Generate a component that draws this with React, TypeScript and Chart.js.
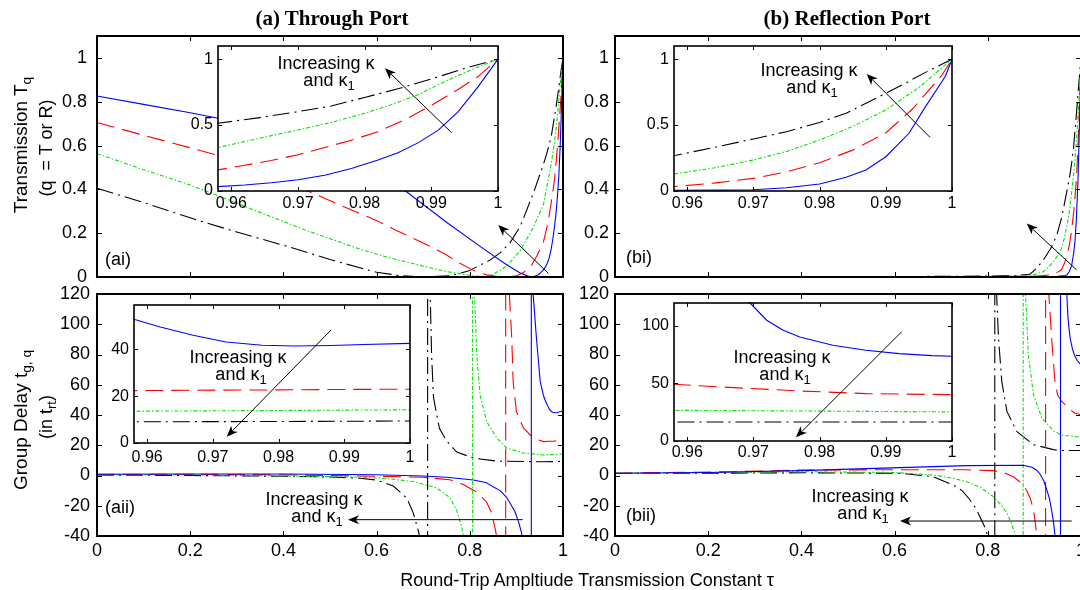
import React, { useEffect, useRef } from "react";
import { Chart, registerables } from "chart.js";

Chart.register(...registerables);

type P = [number, number];

// ---------- tick values ----------
const tauTicksMain = [0, 0.2, 0.4, 0.6, 0.8, 1];
const transTicks = [0, 0.2, 0.4, 0.6, 0.8, 1];
const delayTicks = [-40, -20, 0, 20, 40, 60, 80, 100, 120];
const tauTicksInset = [0.96, 0.97, 0.98, 0.99, 1];
const transTicksInset = [0, 0.5, 1];
const delayTicksInsetA = [0, 20, 40];
const delayTicksInsetB = [0, 50, 100];

// ---------- (a) Through port transmission ----------
const throughBlue: P[] = [[0,0.826],[0.1,0.788],[0.2,0.75],[0.26,0.725],[0.4,0.63],[0.55,0.5],[0.665,0.388],[0.75,0.25],[0.822,0.14],[0.879,0.056],[0.908,0.018],[0.925,0.004],[0.935,0],[0.947,0.01],[0.958,0.033],[0.962,0.045],[0.966,0.062],[0.97,0.085],[0.974,0.12],[0.978,0.17],[0.982,0.235],[0.985,0.29],[0.988,0.365],[0.991,0.46],[0.994,0.6],[0.997,0.79],[1,1]];
const throughRed: P[] = [[0,0.705],[0.1,0.647],[0.2,0.59],[0.26,0.555],[0.35,0.48],[0.457,0.388],[0.52,0.33],[0.564,0.29],[0.603,0.255],[0.64,0.215],[0.7,0.155],[0.747,0.105],[0.772,0.07],[0.81,0.028],[0.836,0.01],[0.86,0.002],[0.88,0],[0.9,0.005],[0.915,0.02],[0.933,0.055],[0.945,0.1],[0.958,0.16],[0.962,0.195],[0.966,0.232],[0.97,0.275],[0.974,0.33],[0.978,0.385],[0.982,0.45],[0.986,0.54],[0.99,0.65],[0.994,0.77],[0.997,0.868],[1,1]];
const throughGreen: P[] = [[0,0.563],[0.1,0.49],[0.2,0.42],[0.257,0.373],[0.35,0.295],[0.45,0.212],[0.564,0.127],[0.62,0.092],[0.693,0.053],[0.75,0.025],[0.8,0.008],[0.825,0.002],[0.845,0.008],[0.865,0.03],[0.879,0.05],[0.908,0.12],[0.936,0.225],[0.958,0.33],[0.962,0.375],[0.966,0.42],[0.97,0.463],[0.975,0.52],[0.98,0.59],[0.984,0.655],[0.988,0.73],[0.992,0.83],[0.996,0.92],[1,1]];
const throughBlack: P[] = [[0,0.405],[0.1,0.34],[0.2,0.27],[0.3,0.205],[0.4,0.145],[0.5,0.08],[0.564,0.042],[0.6,0.022],[0.65,0.006],[0.7,0],[0.76,0.006],[0.8,0.03],[0.843,0.077],[0.865,0.11],[0.886,0.155],[0.908,0.23],[0.936,0.38],[0.958,0.514],[0.964,0.555],[0.97,0.602],[0.975,0.645],[0.98,0.71],[0.985,0.775],[0.99,0.85],[0.995,0.93],[1,1]];

// ---------- (b) Reflection port transmission ----------
const reflBlue: P[] = [[0,0],[0.9,0],[0.95,0.003],[0.958,0.006],[0.965,0.007],[0.97,0.01],[0.975,0.025],[0.98,0.053],[0.984,0.105],[0.987,0.16],[0.99,0.26],[0.9935,0.438],[0.996,0.64],[0.999,0.87],[1,1]];
const reflRed: P[] = [[0,0],[0.5,0.001],[0.9,0.003],[0.935,0.01],[0.948,0.02],[0.958,0.033],[0.964,0.06],[0.97,0.096],[0.975,0.145],[0.98,0.215],[0.985,0.31],[0.99,0.44],[0.994,0.62],[0.9985,0.88],[1,1]];
const reflGreen: P[] = [[0,0],[0.5,0.001],[0.85,0.003],[0.9,0.01],[0.919,0.024],[0.935,0.055],[0.948,0.092],[0.958,0.129],[0.964,0.175],[0.97,0.235],[0.975,0.3],[0.98,0.387],[0.985,0.49],[0.99,0.615],[0.995,0.785],[1,1]];
const reflBlack: P[] = [[0,0],[0.3,0.001],[0.6,0.002],[0.8,0.004],[0.86,0.007],[0.89,0.012],[0.905,0.04],[0.919,0.077],[0.935,0.13],[0.948,0.19],[0.958,0.268],[0.964,0.33],[0.97,0.395],[0.975,0.45],[0.98,0.52],[0.984,0.59],[0.988,0.69],[0.992,0.792],[0.996,0.9],[1,1]];

// ---------- (a) Through port group delay ----------
const delayTBlue: P[] = [[0,0.8],[0.2,1],[0.4,1],[0.6,0.5],[0.7,-0.3],[0.75,-1.2],[0.808,-3],[0.836,-4.8],[0.85,-7.5],[0.865,-10],[0.879,-14.5],[0.886,-18],[0.897,-24],[0.905,-31],[0.911,-38],[0.918,-50],[0.925,-80],[0.932,-1000],[0.932,1000],[0.935,140],[0.936,119.6],[0.943,90.9],[0.951,62.3],[0.958,52.9],[0.962,49.6],[0.967,46.1],[0.972,43.2],[0.9775,41.8],[0.9825,41.5],[0.988,41.7],[0.993,42.1],[1,42.6]];
const delayTRed: P[] = [[0,0.8],[0.2,0.8],[0.4,0.5],[0.6,-0.5],[0.7,-1.2],[0.757,-2.8],[0.786,-6],[0.815,-11],[0.836,-17.5],[0.847,-25],[0.855,-36],[0.86,-45],[0.868,-70],[0.877,-1000],[0.877,1000],[0.884,130],[0.885,119.6],[0.89,90.9],[0.893,62.3],[0.9,42.4],[0.915,31.4],[0.936,24.8],[0.958,22.4],[0.97,22.6],[0.98,22.7],[0.99,22.9],[1,23]];
const delayTGreen: P[] = [[0,0.6],[0.2,0.5],[0.4,-0.3],[0.5,-0.8],[0.564,-1],[0.607,-1.7],[0.636,-2.5],[0.679,-4],[0.707,-6.3],[0.729,-8.3],[0.757,-14.5],[0.772,-23],[0.783,-34.7],[0.79,-45],[0.798,-70],[0.806,-1000],[0.806,1000],[0.809,140],[0.81,119.6],[0.815,79.9],[0.822,53.4],[0.836,35.8],[0.858,24.8],[0.879,18.2],[0.915,14.9],[0.958,13.6],[0.98,13.9],[1,14.2]];
const delayTBlack: P[] = [[0,0.3],[0.2,0],[0.4,-0.5],[0.5,-1],[0.564,-1.8],[0.6,-3],[0.636,-7],[0.665,-15],[0.679,-25],[0.69,-37],[0.695,-45],[0.702,-70],[0.7095,-1000],[0.7095,1000],[0.713,140],[0.715,119.6],[0.718,79.9],[0.722,52],[0.729,40],[0.735,31],[0.75,23],[0.772,15.5],[0.808,11.5],[0.858,9.5],[0.958,9.06],[0.98,9.2],[1,9.4]];

// ---------- (b) Reflection port group delay ----------
const delayRBlue: P[] = [[0,1.5],[0.2,2],[0.397,3.2],[0.612,5.2],[0.755,6.5],[0.876,6.8],[0.895,5.5],[0.905,3.5],[0.912,1],[0.92,-3.5],[0.926,-9],[0.932,-15],[0.937,-23],[0.941,-31],[0.944,-39],[0.948,-55],[0.952,-90],[0.956,-1000],[0.956,1000],[0.962,170],[0.966,138],[0.9695,120],[0.972,105],[0.9745,96.3],[0.977,90.4],[0.982,83.2],[0.987,78.9],[0.992,76],[0.997,74.2],[1,73.7]];
const delayRRed: P[] = [[0,1.5],[0.25,2.5],[0.4,3.6],[0.6,3.8],[0.75,3.8],[0.812,3.2],[0.835,1.8],[0.855,-0.8],[0.87,-4.5],[0.883,-9.6],[0.891,-15],[0.898,-22.8],[0.905,-38.2],[0.91,-52],[0.917,-90],[0.924,-1000],[0.924,1000],[0.928,150],[0.931,119.6],[0.937,90.9],[0.944,62.3],[0.95,53],[0.958,49.3],[0.967,46.4],[0.977,43.5],[0.987,41.2],[1,40.3]];
const delayRGreen: P[] = [[0,1.5],[0.2,2],[0.4,2.5],[0.6,2],[0.683,0.3],[0.72,-1.5],[0.755,-4.1],[0.785,-8],[0.812,-14],[0.83,-20],[0.841,-25],[0.85,-31],[0.858,-38.2],[0.864,-50],[0.87,-80],[0.876,-1000],[0.876,1000],[0.879,150],[0.881,119.6],[0.887,79.9],[0.898,53.4],[0.916,38],[0.941,29.5],[0.958,26.7],[0.98,26],[1,25.3]];
const delayRBlack: P[] = [[0,1.5],[0.2,1.5],[0.4,1.8],[0.612,1.5],[0.683,-0.8],[0.726,-6.3],[0.745,-10],[0.762,-16.2],[0.775,-22],[0.783,-27.2],[0.792,-33],[0.798,-38.2],[0.803,-50],[0.809,-80],[0.815,-1000],[0.815,1000],[0.817,150],[0.819,119.6],[0.823,90.9],[0.83,62.3],[0.841,42.4],[0.862,29.2],[0.898,20.4],[0.941,17.1],[0.958,16.5],[1,16.5]];

// ---------- styles ----------
const FONT = '"Liberation Sans", Arial, Helvetica, sans-serif';
const SERIF = '"Liberation Serif", "Times New Roman", serif';
const STY = {
  blue: { color: "#0000ff", dash: [] as number[] },
  red: { color: "#ff0000", dash: [18, 8] },
  green: { color: "#00e600", dash: [4, 2, 1.5, 2] },
  black: { color: "#000000", dash: [17, 5, 2, 5] },
};

type Arrow = { from: P; to: P };
type Spec = {
  L: number; T: number; W: number; H: number;
  padL: number; padT: number; padR: number; padB: number;
  x: P; y: P; xt: number[]; yt: number[];
  showX: boolean; xPad: number; yPad: number; xSize: number; ySize: number;
  fill?: string; tickLen: number; frameW: number;
  series: P[][]; arrows: Arrow[];
};

const mainBase = { padL: 70, padT: 32, padR: 22, padB: 38, tickLen: 5, frameW: 2, xSize: 18, ySize: 18 };
const insetBase = { padL: 45, padT: 30, padR: 22, padB: 32, tickLen: 4, frameW: 1.6, xSize: 16, ySize: 16, fill: "#ffffff" };

const SPECS: Spec[] = [
  { ...mainBase, L: 97, T: 36, W: 466, H: 241, x: [0, 1], y: [0, 1.1], xt: tauTicksMain, yt: transTicks, showX: false, xPad: 3, yPad: 10,
    series: [throughBlue, throughRed, throughGreen, throughBlack], arrows: [{ from: [0.9685, 0.017], to: [0.861, 0.237] }] },
  { ...mainBase, L: 615, T: 36, W: 466, H: 241, x: [0, 1], y: [0, 1.1], xt: tauTicksMain, yt: transTicks, showX: false, xPad: 3, yPad: 6,
    series: [reflBlue, reflRed, reflGreen, reflBlack], arrows: [{ from: [0.9908, 0.032], to: [0.8835, 0.244] }] },
  { ...mainBase, L: 97, T: 294, W: 466, H: 242, x: [0, 1], y: [-40, 120], xt: tauTicksMain, yt: delayTicks, showX: true, xPad: 4, yPad: 7,
    series: [delayTBlue, delayTRed, delayTGreen, delayTBlack], arrows: [{ from: [0.9135, -29.2], to: [0.5386, -29.2] }] },
  { ...mainBase, L: 615, T: 294, W: 466, H: 242, x: [0, 1], y: [-40, 120], xt: tauTicksMain, yt: delayTicks, showX: true, xPad: 4, yPad: 6,
    series: [delayRBlue, delayRRed, delayRGreen, delayRBlack], arrows: [{ from: [0.98, -30.1], to: [0.6116, -30.1] }] },
  { ...insetBase, L: 218, T: 46, W: 280, H: 145, x: [0.958, 1], y: [0, 1.1], xt: tauTicksInset, yt: transTicksInset, showX: true, xPad: 3, yPad: 5,
    series: [throughBlue, throughRed, throughGreen, throughBlack], arrows: [{ from: [0.99306, 0.442], to: [0.98305, 0.931] }] },
  { ...insetBase, L: 674, T: 46, W: 278, H: 145, x: [0.958, 1], y: [0, 1.1], xt: tauTicksInset, yt: transTicksInset, showX: true, xPad: 3, yPad: 5,
    series: [reflBlue, reflRed, reflGreen, reflBlack], arrows: [{ from: [0.99668, 0.407], to: [0.98711, 0.888] }] },
  { ...insetBase, L: 134, T: 305, W: 276, H: 138, x: [0.958, 1], y: [0, 59], xt: tauTicksInset, yt: delayTicksInsetA, showX: true, xPad: 5, yPad: 5,
    series: [delayTBlue, delayTRed, delayTGreen, delayTBlack], arrows: [{ from: [0.98798, 48.3], to: [0.97211, 2.7] }] },
  { ...insetBase, L: 674, T: 303, W: 278, H: 138, x: [0.958, 1], y: [0, 120], xt: tauTicksInset, yt: delayTicksInsetB, showX: true, xPad: 2, yPad: 5,
    series: [delayRBlue, delayRRed, delayRGreen, delayRBlack], arrows: [{ from: [0.9924, 95], to: [0.97643, 3.2] }] },
];

const framePlugin = {
  id: "frame",
  beforeDraw(chart: any, _a: any, opts: any) {
    if (!opts || !opts.fill) return;
    const { ctx, chartArea: a } = chart;
    ctx.save();
    ctx.fillStyle = opts.fill;
    ctx.fillRect(a.left, a.top, a.right - a.left, a.bottom - a.top);
    ctx.restore();
  },
  afterDatasetsDraw(chart: any, _a: any, opts: any) {
    const { ctx, chartArea: a, scales } = chart;
    const xs = scales.x, ys = scales.y;
    const len = opts.tickLen;
    ctx.save();
    ctx.strokeStyle = "#000";
    ctx.fillStyle = "#000";
    ctx.setLineDash([]);
    ctx.lineWidth = 1;
    ctx.beginPath();
    xs.ticks.forEach((t: any) => {
      const p = Math.round(xs.getPixelForValue(t.value)) + 0.5;
      ctx.moveTo(p, a.bottom); ctx.lineTo(p, a.bottom - len);
      ctx.moveTo(p, a.top); ctx.lineTo(p, a.top + len);
    });
    ys.ticks.forEach((t: any) => {
      const p = Math.round(ys.getPixelForValue(t.value)) + 0.5;
      ctx.moveTo(a.left, p); ctx.lineTo(a.left + len, p);
      ctx.moveTo(a.right, p); ctx.lineTo(a.right - len, p);
    });
    ctx.stroke();
    (opts.arrows || []).forEach((ar: Arrow) => {
      const x1 = xs.getPixelForValue(ar.from[0]), y1 = ys.getPixelForValue(ar.from[1]);
      const x2 = xs.getPixelForValue(ar.to[0]), y2 = ys.getPixelForValue(ar.to[1]);
      const ang = Math.atan2(y2 - y1, x2 - x1);
      const hl = 11, hw = 4.5;
      const bx = x2 - hl * Math.cos(ang), by = y2 - hl * Math.sin(ang);
      ctx.lineWidth = 1;
      ctx.beginPath(); ctx.moveTo(x1, y1); ctx.lineTo(bx + 3 * Math.cos(ang), by + 3 * Math.sin(ang)); ctx.stroke();
      ctx.beginPath();
      ctx.moveTo(x2, y2);
      ctx.lineTo(bx + hw * Math.sin(ang), by - hw * Math.cos(ang));
      ctx.lineTo(bx + 3 * Math.cos(ang), by + 3 * Math.sin(ang));
      ctx.lineTo(bx - hw * Math.sin(ang), by + hw * Math.cos(ang));
      ctx.closePath();
      ctx.fill();
    });
    ctx.lineWidth = opts.frameW;
    ctx.strokeRect(a.left, a.top, a.right - a.left, a.bottom - a.top);
    ctx.restore();
  },
};

function makeChart(canvas: HTMLCanvasElement, s: Spec) {
  const styles = [STY.blue, STY.red, STY.green, STY.black];
  const fmt = (v: any) => String(Number(v));
  return new Chart(canvas, {
    type: "scatter",
    data: {
      datasets: s.series.map((d, i) => ({
        data: d.map(([x, y]) => ({ x, y })),
        showLine: true,
        borderColor: styles[i].color,
        backgroundColor: styles[i].color,
        borderWidth: 1.1,
        borderDash: styles[i].dash,
        pointRadius: 0,
        pointHoverRadius: 0,
        tension: 0,
        fill: false,
        clip: 1,
      })) as any,
    },
    options: {
      animation: false,
      responsive: false,
      maintainAspectRatio: false,
      events: [],
      layout: { padding: { left: 0, top: s.padT, right: s.padR, bottom: 0 } },
      plugins: {
        legend: { display: false },
        tooltip: { enabled: false },
        frame: { fill: s.fill, tickLen: s.tickLen, frameW: s.frameW, arrows: s.arrows },
      } as any,
      scales: {
        x: {
          type: "linear",
          min: s.x[0],
          max: s.x[1],
          afterBuildTicks: (sc: any) => { sc.ticks = s.xt.map((v) => ({ value: v })); },
          afterFit: (sc: any) => { sc.height = s.padB; },
          grid: { display: false, drawTicks: false },
          border: { display: false },
          ticks: { display: s.showX, padding: s.xPad, autoSkip: false, maxRotation: 0, color: "#000", font: { family: FONT, size: s.xSize }, callback: fmt },
        },
        y: {
          type: "linear",
          min: s.y[0],
          max: s.y[1],
          afterBuildTicks: (sc: any) => { sc.ticks = s.yt.map((v) => ({ value: v })); },
          afterFit: (sc: any) => { sc.width = s.padL; },
          grid: { display: false, drawTicks: false },
          border: { display: false },
          ticks: { display: true, padding: s.yPad, autoSkip: false, color: "#000", font: { family: FONT, size: s.ySize }, callback: fmt },
        },
      },
    } as any,
    plugins: [framePlugin as any],
  });
}

const subStyle: React.CSSProperties = { fontSize: "0.72em", verticalAlign: "-0.3em", lineHeight: 0 };

function Txt(props: { x: number; y: number; size?: number; rot?: number; bold?: boolean; serif?: boolean; children: React.ReactNode }) {
  const { x, y, size = 18, rot = 0, bold = false, serif = false, children } = props;
  return (
    <div
      style={{
        position: "absolute",
        left: x,
        top: y,
        transform: `translate(-50%, -50%)${rot ? ` rotate(${rot}deg)` : ""}`,
        fontFamily: serif ? SERIF : FONT,
        fontSize: size,
        fontWeight: bold ? "bold" : "normal",
        lineHeight: 1,
        whiteSpace: "pre",
        color: "#000",
      }}
    >
      {children}
    </div>
  );
}

function Note({ x, y }: { x: number; y: number }) {
  return (
    <>
      <Txt x={x} y={y}>Increasing κ</Txt>
      <Txt x={x + 3} y={y + 17}>and κ<sub style={subStyle}>1</sub></Txt>
    </>
  );
}

export default function App() {
  const refs = useRef<(HTMLCanvasElement | null)[]>([]);
  useEffect(() => {
    const charts = SPECS.map((s, i) => makeChart(refs.current[i] as HTMLCanvasElement, s));
    return () => charts.forEach((c) => c.destroy());
  }, []);
  return (
    <div style={{ position: "fixed", left: 0, top: 0, width: 1080, height: 590, overflow: "hidden", background: "#fff" }}>
      {SPECS.map((s, i) => {
        const w = s.padL + s.W + s.padR;
        const h = s.padT + s.H + s.padB;
        return (
          <canvas
            key={i}
            ref={(el) => { refs.current[i] = el; }}
            width={w}
            height={h}
            style={{ position: "absolute", left: s.L - s.padL, top: s.T - s.padT, width: w, height: h }}
          />
        );
      })}
      <Txt x={332} y={18} size={21} bold serif>(a) Through Port</Txt>
      <Txt x={847} y={18} size={21} bold serif>(b) Reflection Port</Txt>
      <Txt x={20} y={145} size={19} rot={-90}>Transmission T<sub style={subStyle}>q</sub></Txt>
      <Txt x={46} y={148} rot={-90}>(q  = T or R)</Txt>
      <Txt x={20} y={420} size={19} rot={-90}>Group Delay t<sub style={subStyle}>g, q</sub></Txt>
      <Txt x={46} y={417} rot={-90}>(in t<sub style={subStyle}>rt</sub>)</Txt>
      <Txt x={587} y={580}>Round-Trip Ampltiude Transmission Constant τ</Txt>
      <Txt x={118} y={259}>(ai)</Txt>
      <Txt x={639} y={257}>(bi)</Txt>
      <Txt x={120} y={507}>(aii)</Txt>
      <Txt x={641} y={515}>(bii)</Txt>
      <Note x={326} y={63} />
      <Note x={809} y={70} />
      <Note x={238} y={357} />
      <Note x={782} y={357} />
      <Note x={314} y={499} />
      <Note x={860} y={496} />
    </div>
  );
}
